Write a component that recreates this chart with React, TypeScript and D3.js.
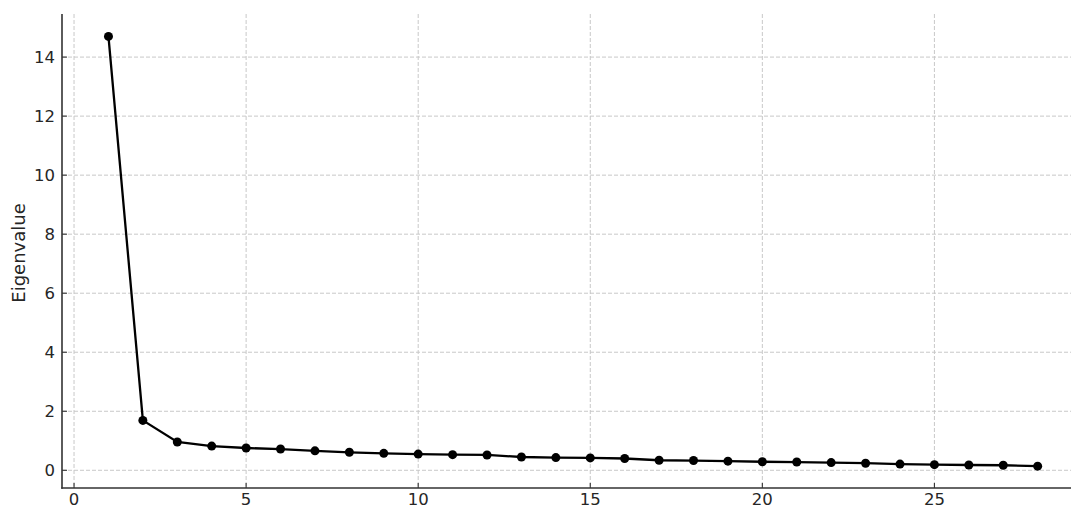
import React from "react";
import * as d3 from "d3";

const components: number[] = Array.from({ length: 28 }, (_, i) => i + 1);
const eigenvalues: number[] = [
  14.7, 1.69, 0.96, 0.82, 0.755, 0.72, 0.66, 0.61, 0.575, 0.55,
  0.53, 0.52, 0.45, 0.43, 0.42, 0.4, 0.34, 0.33, 0.31, 0.29,
  0.28, 0.26, 0.24, 0.21, 0.19, 0.18, 0.17, 0.14,
];
const xTicks: number[] = [0, 5, 10, 15, 20, 25];
const yTicks: number[] = [0, 2, 4, 6, 8, 10, 12, 14];
const yLabel = "Eigenvalue";

export default function App() {
  const W = 1071;
  const H = 506;
  const left = 62;
  const top = 14;
  const bottom = 488;
  const x = d3.scaleLinear().domain([-0.35, 29.35]).range([left, 73.6 + 29.35 * 34.43]);
  const y = d3.scaleLinear().domain([-0.6, 15.46]).range([bottom, top]);
  const line = d3
    .line<number>()
    .x((_, i) => x(components[i]))
    .y((d) => y(d));
  const font = "'DejaVu Sans', sans-serif";
  const textColor = "#262626";
  const spineColor = "#333";
  const right = W + 20;
  return (
    <svg
      width={W}
      height={H}
      style={{ position: "fixed", left: 0, top: 0, background: "#fff" }}
      fontFamily={font}
    >
      <rect x={0} y={0} width={W} height={H} fill="#fff" />
      {xTicks.map((t) => (
        <line
          key={"gx" + t}
          x1={x(t)}
          x2={x(t)}
          y1={top}
          y2={bottom}
          stroke="#c8c8c8"
          strokeWidth={1}
          strokeDasharray="4,2"
        />
      ))}
      {yTicks.map((t) => (
        <line
          key={"gy" + t}
          x1={left}
          x2={right}
          y1={y(t)}
          y2={y(t)}
          stroke="#c8c8c8"
          strokeWidth={1}
          strokeDasharray="4,2"
        />
      ))}
      <path d={line(eigenvalues) || ""} fill="none" stroke="#000" strokeWidth={2.3} />
      {eigenvalues.map((v, i) => (
        <circle key={"p" + i} cx={x(components[i])} cy={y(v)} r={4.5} fill="#000" />
      ))}
      <line x1={left} x2={left} y1={top} y2={bottom + 0.75} stroke={spineColor} strokeWidth={1.6} />
      <line x1={left - 0.75} x2={right} y1={bottom} y2={bottom} stroke={spineColor} strokeWidth={1.6} />
      {yTicks.map((t) => (
        <g key={"ty" + t}>
          <line x1={left} x2={left + 5} y1={y(t)} y2={y(t)} stroke={spineColor} strokeWidth={1.1} />
          <text
            x={55}
            y={y(t)}
            textAnchor="end"
            dominantBaseline="central"
            fontSize={16.5}
            fill={textColor}
          >
            {t}
          </text>
        </g>
      ))}
      {xTicks.map((t) => (
        <g key={"tx" + t}>
          <line x1={x(t)} x2={x(t)} y1={bottom} y2={bottom - 5} stroke={spineColor} strokeWidth={1.1} />
          <text
            x={x(t)}
            y={493}
            textAnchor="middle"
            dominantBaseline="hanging"
            fontSize={16.5}
            fill={textColor}
          >
            {t}
          </text>
        </g>
      ))}
      <text
        transform={`translate(25, ${(top + bottom) / 2 + 2}) rotate(-90)`}
        textAnchor="middle"
        fontSize={18}
        fill={textColor}
      >
        {yLabel}
      </text>
    </svg>
  );
}
